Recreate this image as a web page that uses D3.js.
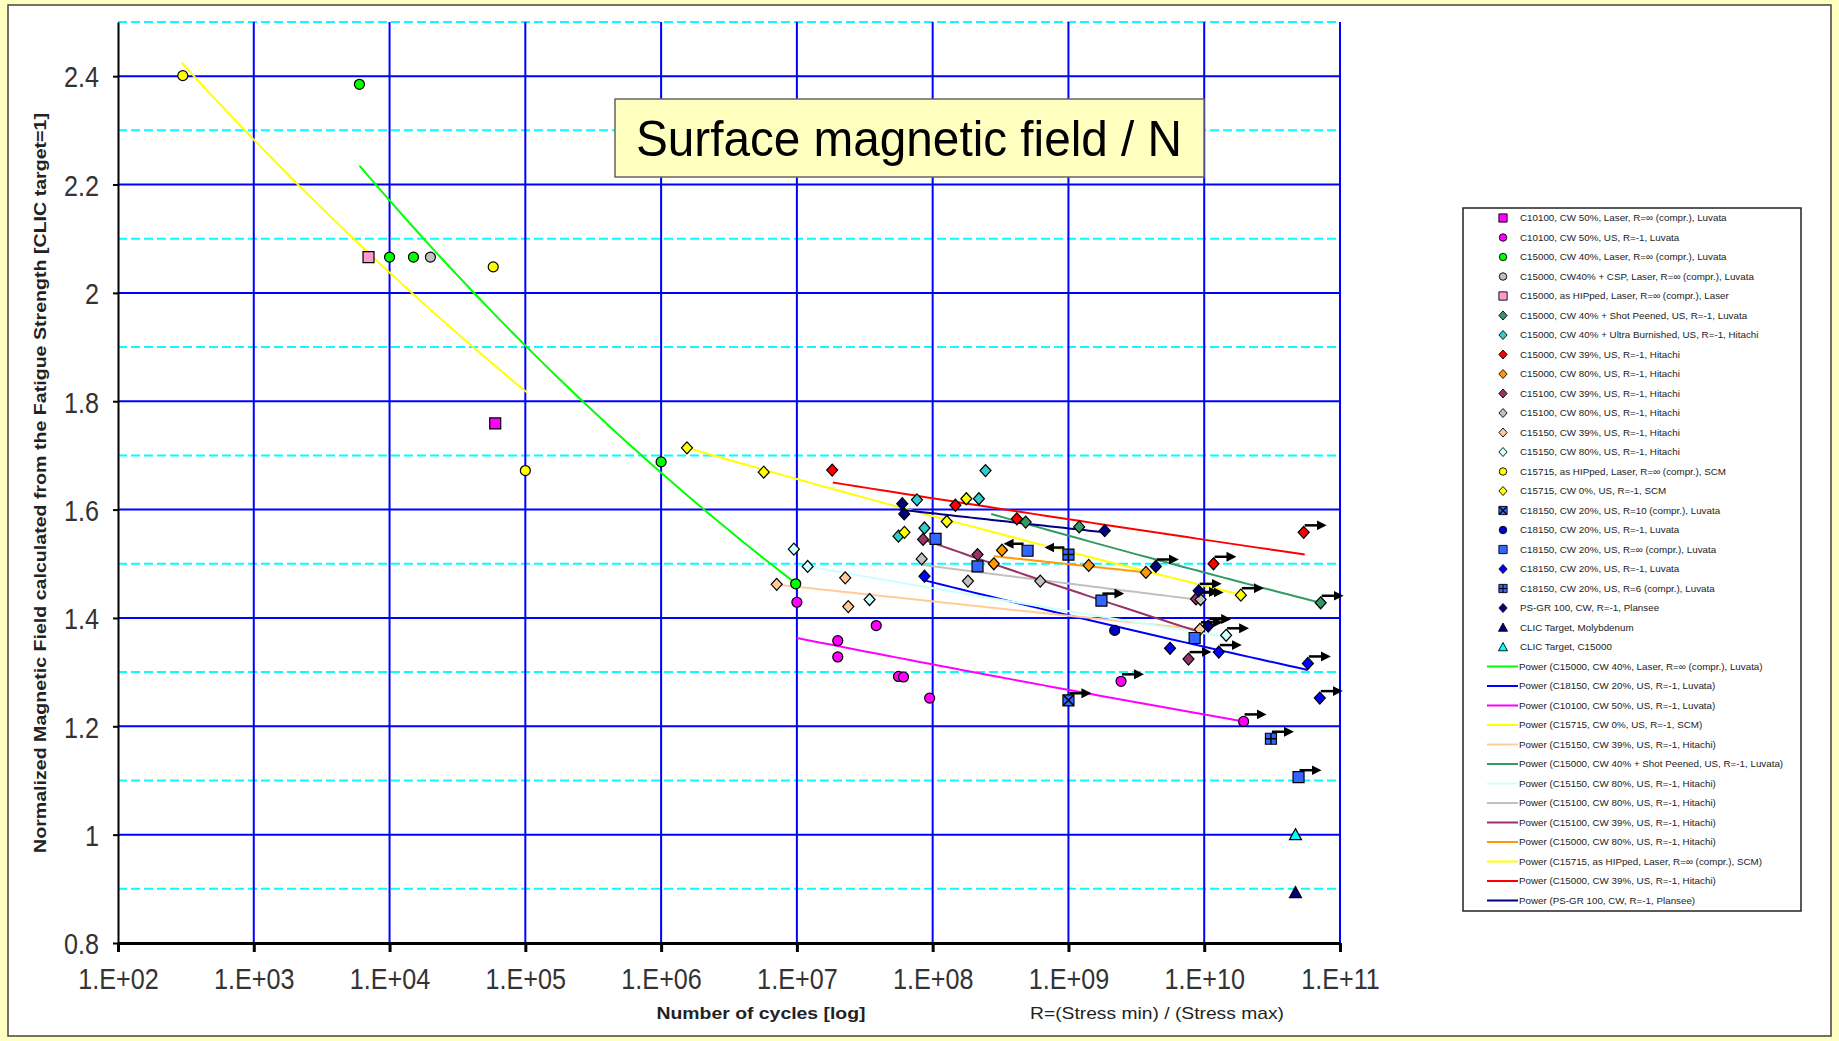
<!DOCTYPE html>
<html>
<head>
<meta charset="utf-8">
<script src="https://cdn.jsdelivr.net/npm/d3@7"></script>
<style>
  body { margin: 0; background: #ffffc0; }
  svg { display: block; font-family: "Liberation Sans", Arial, sans-serif; }
</style>
</head>
<body>
<div id="chart"></div>
<script>
// ---- data (cycles, normalized field); run = 1 runout arrow right, -1 arrow left ----
let seriesNames = [
  "C10100, CW 50%, Laser, R=\u221E (compr.), Luvata",
  "C10100, CW 50%, US, R=-1, Luvata",
  "C15000, CW 40%, Laser, R=\u221E (compr.), Luvata",
  "C15000, CW40% + CSP, Laser, R=\u221E (compr.), Luvata",
  "C15000, as HIPped, Laser, R=\u221E (compr.), Laser",
  "C15000, CW 40% + Shot Peened, US, R=-1, Luvata",
  "C15000, CW 40% + Ultra Burnished, US, R=-1, Hitachi",
  "C15000, CW 39%, US, R=-1, Hitachi",
  "C15000, CW 80%, US, R=-1, Hitachi",
  "C15100, CW 39%, US, R=-1, Hitachi",
  "C15100, CW 80%, US, R=-1, Hitachi",
  "C15150, CW 39%, US, R=-1, Hitachi",
  "C15150, CW 80%, US, R=-1, Hitachi",
  "C15715, as HIPped, Laser, R=\u221E (compr.), SCM",
  "C15715, CW 0%, US, R=-1, SCM",
  "C18150, CW 20%, US, R=10 (compr.), Luvata",
  "C18150, CW 20%, US, R=-1, Luvata",
  "C18150, CW 20%, US, R=\u221E (compr.), Luvata",
  "C18150, CW 20%, US, R=-1, Luvata",
  "C18150, CW 20%, US, R=6 (compr.), Luvata",
  "PS-GR 100, CW, R=-1, Plansee",
  "CLIC Target, Molybdenum",
  "CLIC Target, C15000"
];
let seriesColors = ["#ff00ff","#ff00ff","#00ff00","#c0c0c0","#ff99cc","#339966","#33cccc","#ff0000",
  "#ff9900","#993366","#c0c0c0","#ffcc99","#ccffff","#ffff00","#ffff00","#3366ff","#0000cc",
  "#3366ff","#0000ff","#3366ff","#000080","#000080","#00ffff"];
let seriesShapes = ["square","circle","circle","circle","square","diamond","diamond","diamond",
  "diamond","diamond","diamond","diamond","diamond","circle","diamond","xsquare","circle",
  "square","diamond","plussquare","diamond","triangle","triangle"];

let seriesPoints = [
  [[6e4, 1.759, 0]],
  [[1e7, 1.429, 0], [3.84e7, 1.386, 0], [2.0e7, 1.358, 0], [2.0e7, 1.328, 0], [5.6e7, 1.292, 0],
   [6.1e7, 1.291, 0], [9.5e7, 1.252, 0], [2.44e9, 1.283, 1], [1.95e10, 1.209, 1]],
  [[6e3, 2.385, 0], [1e4, 2.066, 0], [1.5e4, 2.066, 0], [1e6, 1.688, 0], [9.8e6, 1.463, 0]],
  [[2e4, 2.066, 0]],
  [[7e3, 2.066, 0]],
  [[4.84e8, 1.577, 0], [1.2e9, 1.568, 0], [7.2e10, 1.428, 1]],
  [[7.66e7, 1.618, 0], [2.19e8, 1.620, 0], [2.45e8, 1.672, 0], [5.6e7, 1.551, 0], [8.7e7, 1.566, 0]],
  [[1.82e7, 1.673, 0], [1.47e8, 1.608, 0], [4.17e8, 1.583, 0], [1.17e10, 1.50, 1], [5.4e10, 1.558, 1]],
  [[3.24e8, 1.525, 0], [2.82e8, 1.50, 0], [1.41e9, 1.497, 0], [3.72e9, 1.484, 0]],
  [[8.5e7, 1.545, 0], [2.14e8, 1.517, 0], [7.66e9, 1.324, 1], [8.7e9, 1.435, 1]],
  [[8.3e7, 1.509, 0], [1.82e8, 1.468, 0], [6.2e8, 1.468, 0], [9.4e9, 1.434, 1]],
  [[7.1e6, 1.462, 0], [2.27e7, 1.474, 0], [2.39e7, 1.421, 0], [9.3e9, 1.379, 1]],
  [[9.5e6, 1.527, 0], [1.2e7, 1.495, 0], [3.43e7, 1.434, 0], [1.45e10, 1.368, 1]],
  [[3e2, 2.401, 0], [5.8e4, 2.048, 0], [1.0e5, 1.672, 0]],
  [[1.55e6, 1.714, 0], [5.7e6, 1.669, 0], [1.77e8, 1.620, 0], [1.27e8, 1.578, 0], [6.2e7, 1.558, 0],
   [1.86e10, 1.442, 1]],
  [[1.0e9, 1.248, 1]],
  [[2.19e9, 1.377, 0]],
  [[1.05e8, 1.546, 0], [2.14e8, 1.495, 0], [5.0e8, 1.524, -1], [1.75e9, 1.432, 1], [8.5e9, 1.363, 0],
   [4.95e10, 1.106, 1]],
  [[8.7e7, 1.477, 0], [5.6e9, 1.344, 0], [1.28e10, 1.337, 1], [5.8e10, 1.316, 1], [7.1e10, 1.252, 1]],
  [[1.0e9, 1.517, -1], [3.1e10, 1.177, 1]],
  [[5.97e7, 1.611, 0], [6.17e7, 1.592, 0], [1.85e9, 1.561, 0], [4.4e9, 1.495, 1], [9.1e9, 1.45, 1],
   [1.07e10, 1.385, 1]],
  [[4.7e10, 0.893, 0]],
  [[4.7e10, 1.0, 0]]
];

// power-law trend lines: [N start, value start, N end, value end]
let trendNames = [
  "Power (C15000, CW 40%, Laser, R=\u221E (compr.), Luvata)",
  "Power (C18150, CW 20%, US, R=-1, Luvata)",
  "Power (C10100, CW 50%, US, R=-1, Luvata)",
  "Power (C15715, CW 0%, US, R=-1, SCM)",
  "Power (C15150, CW 39%, US, R=-1, Hitachi)",
  "Power (C15000, CW 40% + Shot Peened, US, R=-1, Luvata)",
  "Power (C15150, CW 80%, US, R=-1, Hitachi)",
  "Power (C15100, CW 80%, US, R=-1, Hitachi)",
  "Power (C15100, CW 39%, US, R=-1, Hitachi)",
  "Power (C15000, CW 80%, US, R=-1, Hitachi)",
  "Power (C15715, as HIPped, Laser, R=\u221E (compr.), SCM)",
  "Power (C15000, CW 39%, US, R=-1, Hitachi)",
  "Power (PS-GR 100, CW, R=-1, Plansee)"
];
let trendColors = ["#00ff00","#0000ff","#ff00ff","#ffff00","#ffcc99","#339966","#ccffff",
  "#c0c0c0","#993366","#ff9900","#ffff00","#ff0000","#000080"];
let trendEnds = [
  [6e3, 2.235, 9.9e6, 1.463],
  [8.5e7, 1.470, 5.8e10, 1.304],
  [1e7, 1.363, 1.95e10, 1.209],
  [1.55e6, 1.714, 1.86e10, 1.443],
  [7.4e6, 1.461, 9.3e9, 1.379],
  [2.7e8, 1.592, 7.2e10, 1.428],
  [1.2e7, 1.495, 1.45e10, 1.365],
  [8.3e7, 1.498, 8.8e9, 1.434],
  [8.5e7, 1.545, 8.8e9, 1.376],
  [2.82e8, 1.514, 3.77e9, 1.484],
  [2.94e2, 2.425, 1.03e5, 1.816],
  [1.84e7, 1.650, 5.5e10, 1.517],
  [5.7e7, 1.600, 1.85e9, 1.558]
];

let xTicks = [1e2, 1e3, 1e4, 1e5, 1e6, 1e7, 1e8, 1e9, 1e10, 1e11];
let yMajor = [0.8, 1.0, 1.2, 1.4, 1.6, 1.8, 2.0, 2.2, 2.4];
let yMinor = [0.9, 1.1, 1.3, 1.5, 1.7, 1.9, 2.1, 2.3, 2.5];

// ---- layout ----
let W = 1839, H = 1041;
let plot = { left: 118, right: 1340, top: 22, bottom: 943 };
let squeeze = 0.84; // tick labels are drawn horizontally condensed

let svg = d3.select('#chart').append('svg')
  .attr('width', W)
  .attr('height', H);

svg.append('rect').attr('width', W).attr('height', H).attr('fill', '#ffffc0');
svg.append('rect')
  .attr('x', 8).attr('y', 5).attr('width', 1823).attr('height', 1031)
  .attr('fill', '#fff').attr('stroke', '#444').attr('stroke-width', 1.5);

let x = d3.scaleLog().domain([1e2, 1e11]).range([plot.left, plot.right]);
let y = d3.scaleLinear().domain([0.8, 2.5]).range([plot.bottom, plot.top]);

// gridlines
svg.append('g').selectAll('line').data(yMinor).enter().append('line')
  .attr('x1', plot.left).attr('x2', plot.right)
  .attr('y1', d => y(d)).attr('y2', d => y(d))
  .attr('stroke', '#00ffff').attr('stroke-width', 2).attr('stroke-dasharray', '9,4');
svg.append('g').selectAll('line').data(yMajor.slice(1)).enter().append('line')
  .attr('x1', plot.left).attr('x2', plot.right)
  .attr('y1', d => y(d)).attr('y2', d => y(d))
  .attr('stroke', '#0000ff').attr('stroke-width', 2);
svg.append('g').selectAll('line').data(xTicks.slice(1)).enter().append('line')
  .attr('x1', d => x(d)).attr('x2', d => x(d))
  .attr('y1', plot.top).attr('y2', plot.bottom)
  .attr('stroke', '#0000ff').attr('stroke-width', 2);

// axes
let xAxis = d3.axisBottom(x).tickValues(xTicks)
  .tickFormat(d => '1.E+' + d3.format('02d')(Math.round(Math.log10(d))))
  .tickSize(9).tickSizeOuter(0);
let gx = svg.append('g').attr('transform', `translate(0,${plot.bottom})`).call(xAxis);
gx.select('.domain').attr('stroke', '#000').attr('stroke-width', 3);
gx.selectAll('.tick line').attr('stroke', '#000').attr('stroke-width', 3);
gx.selectAll('.tick text')
  .attr('y', 46).attr('dy', 0)
  .attr('transform', `scale(${squeeze},1)`)
  .attr('fill', '#333')
  .style('font-size', '30px');

let yAxis = d3.axisLeft(y).tickValues(yMajor).tickFormat(d3.format('')).tickSize(5).tickSizeOuter(0);
let gy = svg.append('g').attr('transform', `translate(${plot.left},0)`).call(yAxis);
gy.select('.domain').attr('stroke', '#000').attr('stroke-width', 2);
gy.selectAll('.tick line').attr('stroke', '#000').attr('stroke-width', 2);
gy.selectAll('.tick text')
  .attr('x', -19 / squeeze).attr('dy', '0.36em')
  .attr('transform', `scale(${squeeze},1)`)
  .attr('fill', '#333')
  .style('font-size', '30px');

// axis titles
svg.append('text')
  .attr('transform', 'translate(46,483) rotate(-90)')
  .attr('text-anchor', 'middle')
  .attr('font-weight', 'bold').attr('font-size', 16).attr('fill', '#222')
  .attr('textLength', 740).attr('lengthAdjust', 'spacingAndGlyphs')
  .text('Normalized Magnetic Field calculated from the Fatigue Strength  [CLIC target=1]');
svg.append('text')
  .attr('x', 761).attr('y', 1019)
  .attr('text-anchor', 'middle')
  .attr('font-weight', 'bold').attr('font-size', 17).attr('fill', '#222')
  .attr('textLength', 209).attr('lengthAdjust', 'spacingAndGlyphs')
  .text('Number of cycles [log]');
svg.append('text')
  .attr('x', 1157).attr('y', 1019)
  .attr('text-anchor', 'middle')
  .attr('font-size', 17).attr('fill', '#222')
  .attr('textLength', 254).attr('lengthAdjust', 'spacingAndGlyphs')
  .text('R=(Stress min) / (Stress max)');

// trend lines (power law between the two end points)
let trendData = trendEnds.map(function(t, i) {
  let b = Math.log(t[3] / t[1]) / Math.log(t[2] / t[0]);
  let pts = d3.range(0, 41).map(function(k) {
    let n = t[0] * Math.pow(t[2] / t[0], k / 40);
    return [n, t[1] * Math.pow(n / t[0], b)];
  });
  return { color: trendColors[i], pts: pts };
});
let line = d3.line().x(d => x(d[0])).y(d => y(d[1]));
svg.append('g').selectAll('path').data(trendData).enter().append('path')
  .attr('d', d => line(d.pts))
  .attr('fill', 'none')
  .attr('stroke', d => d.color)
  .attr('stroke-width', 2);

// markers
function shapePath(shape) {
  if (shape === 'diamond') return 'M0,-6L5.5,0L0,6L-5.5,0Z';
  if (shape === 'circle') return 'M-5,0A5,5 0 1,0 5,0A5,5 0 1,0 -5,0Z';
  if (shape === 'triangle') return 'M0,-6L6,5L-6,5Z';
  return 'M-5.5,-5.5H5.5V5.5H-5.5Z';
}

let pointData = [];
seriesPoints.forEach(function(pts, i) {
  pts.forEach(function(p) {
    pointData.push({ n: p[0], v: p[1], run: p[2], color: seriesColors[i], shape: seriesShapes[i] });
  });
});

function drawMarker(g, shape, color) {
  g.append('path')
    .attr('d', shapePath(shape))
    .attr('fill', color)
    .attr('stroke', '#000')
    .attr('stroke-width', 1.2);
  if (shape === 'xsquare') {
    g.append('path').attr('d', 'M-5,-5L5,5M5,-5L-5,5').attr('stroke', '#000').attr('stroke-width', 1.5);
  }
  if (shape === 'plussquare') {
    g.append('path').attr('d', 'M-5.5,0H5.5M0,-5.5V5.5').attr('stroke', '#000').attr('stroke-width', 1.5);
  }
}

let defs = svg.append('defs');
defs.append('marker')
  .attr('id', 'arrowhead')
  .attr('viewBox', '0 0 10 10')
  .attr('refX', 6).attr('refY', 5)
  .attr('markerWidth', 4).attr('markerHeight', 4)
  .attr('orient', 'auto')
  .append('path').attr('d', 'M0,0L10,5L0,10Z').attr('fill', '#000');

let markG = svg.append('g');
pointData.forEach(function(d) {
  let g = markG.append('g').attr('transform', `translate(${x(d.n)},${y(d.v)})`);
  drawMarker(g, d.shape, d.color);
  if (d.run === 1) {
    g.append('path').attr('d', 'M1,-7H19')
      .attr('stroke', '#000').attr('stroke-width', 2.5)
      .attr('marker-end', 'url(#arrowhead)');
  }
  if (d.run === -1) {
    g.append('path').attr('d', 'M-4,-7H-20')
      .attr('stroke', '#000').attr('stroke-width', 2.5)
      .attr('marker-end', 'url(#arrowhead)');
  }
});

// title box
svg.append('rect')
  .attr('x', 615).attr('y', 99).attr('width', 589).attr('height', 78)
  .attr('fill', '#ffffc0').attr('stroke', '#666').attr('stroke-width', 1.5);
svg.append('text')
  .attr('x', 909).attr('y', 156)
  .attr('text-anchor', 'middle')
  .attr('font-size', 50).attr('fill', '#000')
  .attr('textLength', 546).attr('lengthAdjust', 'spacingAndGlyphs')
  .text('Surface magnetic field / N');

// legend
let legend = svg.append('g');
legend.append('rect')
  .attr('x', 1463).attr('y', 208).attr('width', 338).attr('height', 703)
  .attr('fill', '#fff').attr('stroke', '#222').attr('stroke-width', 1.5);
let rowH = 19.5, row0 = 218;
seriesNames.forEach(function(name, i) {
  let g = legend.append('g').attr('transform', `translate(1503,${row0 + i * rowH})`);
  let m = g.append('g').attr('transform', 'scale(0.75)');
  drawMarker(m, seriesShapes[i], seriesColors[i]);
  g.append('text').attr('x', 17).attr('dy', '0.35em')
    .attr('font-size', 9.8).attr('fill', '#222').text(name);
});
trendNames.forEach(function(name, i) {
  let yy = row0 + (seriesNames.length + i) * rowH;
  legend.append('line')
    .attr('x1', 1487).attr('x2', 1518).attr('y1', yy).attr('y2', yy)
    .attr('stroke', trendColors[i]).attr('stroke-width', 2);
  legend.append('text').attr('x', 1519).attr('y', yy).attr('dy', '0.35em')
    .attr('font-size', 9.8).attr('fill', '#222').text(name);
});
</script>
</body>
</html>
